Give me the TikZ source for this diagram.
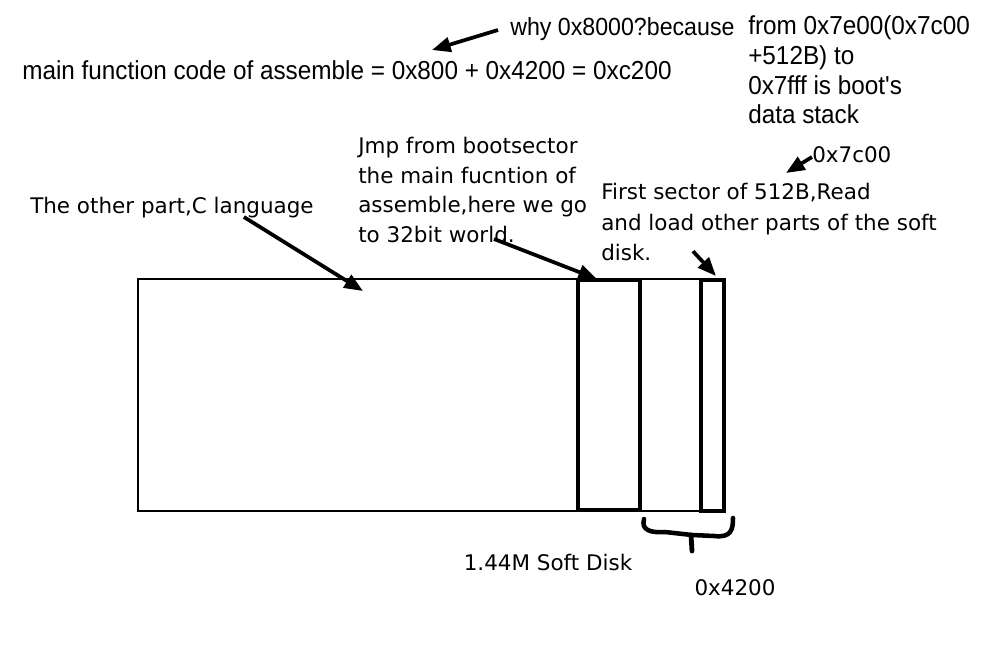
\documentclass[tikz,border=0pt]{standalone}
\usepackage{fontspec}
\setmainfont{DejaVu Sans}
\newfontfamily\narrowfont[FakeStretch=0.935]{Liberation Sans}
\usetikzlibrary{arrows.meta}
\tikzstyle{hand} = [line width=2.8pt,-{Triangle[length=14pt,width=11pt]}]
\tikzstyle{note} = [align=left, anchor=west, inner sep=0pt, font=\fontsize{16.1}{22.2}\selectfont]
\tikzstyle{scrawl} = [align=left, anchor=west, inner sep=0pt, font=\narrowfont\fontsize{19.5}{22.2}\selectfont]
\tikzstyle{part} = [line width=3pt]

\begin{document}
\begin{tikzpicture}[x=0.75pt,y=-0.75pt]
      \useasboundingbox (0,0) rectangle (983,661);
      % texts
      \node (main) [scrawl] at (22,70) {main function code of assemble = 0x800 + 0x4200 = 0xc200};
      \node (why) [scrawl, font=\narrowfont\fontsize{18.6}{22.2}\selectfont] at (510,29) {why 0x8000?because};
      \node (stack) [scrawl] at (748,70) {from 0x7e00(0x7c00\\+512B) to\\0x7fff is boot's\\data stack};
      \node (jmp) [note] at (358,190) {Jmp from bootsector\\the main fucntion of\\assemble,here we go\\to 32bit world.};
      \node (c7) [note] at (812,155) {0x7c00};
      \node (first) [note, font=\fontsize{16.1}{23}\selectfont] at (601,222) {First sector of 512B,Read\\and load other parts of the soft\\disk.};
      \node (other) [note] at (30,208) {The other part,C language};
      \node (soft) [note, anchor=center] at (548,562) {1.44M Soft Disk};
      \node (size) [note, anchor=center] at (735,588) {0x4200};
      % the disk
      \draw [line width=1.8pt] (138,279) rectangle (724,511);
      \draw [part] (578,280) rectangle (640,510);
      \draw [part] (701,280) rectangle (724,511);
      \coordinate (cpart) at (363,291);
      \coordinate (asm) at (597,279);
      \coordinate (boot) at (716,276);
      \coordinate (mainend) at (432,50);
      \coordinate (bootend) at (786,173);
      % arrows
      \draw [hand] (why.west) ++(-12,1) -- (mainend);
      \draw [hand] (other.east) ++(-70,9) -- (cpart);
      \draw [hand] (jmp.south west) ++(136,-4) -- (asm);
      \draw [hand] (first.south west) ++(92,-10) -- (boot);
      \draw [hand] (c7.west) ++(0,2) -- (bootend);
      % brace
      \draw [line width=3.4pt, line cap=round, line join=round]
        (644,519) .. controls (641,530) and (650,533) .. (665,532) -- (692,535) -- (714,536)
        .. controls (731,538) and (733,530) .. (733,518);
      \draw [line width=3.6pt, line cap=round] (691,535) -- (692,551);
    \end{tikzpicture}
\end{document}
